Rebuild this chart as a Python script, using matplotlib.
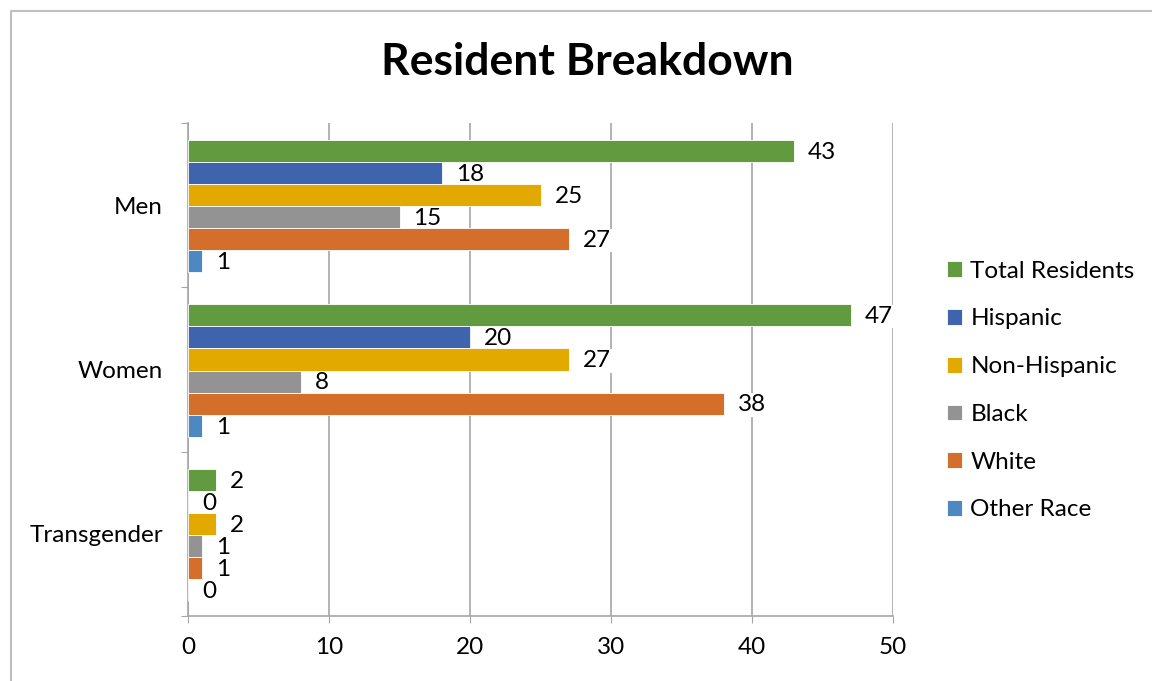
import matplotlib
matplotlib.use("Agg")
import matplotlib.pyplot as plt
from matplotlib.lines import Line2D
import numpy as np

categories = ["Men", "Women", "Transgender"]
series_names = ["Total Residents", "Hispanic", "Non-Hispanic", "Black", "White", "Other Race"]
total_residents = [43, 47, 2]
hispanic = [18, 20, 0]
non_hispanic = [25, 27, 2]
black = [15, 8, 1]
white = [27, 38, 1]
other_race = [1, 1, 0]
x_ticks = [0, 10, 20, 30, 40, 50]

series_values = [total_residents, hispanic, non_hispanic, black, white, other_race]
colors = ["#629A3F", "#3E64AD", "#E2AA00", "#939393", "#D46F2B", "#4E88C1"]

plt.rcParams['font.family'] = ['Lato', 'DejaVu Sans']

W, H = 1152, 681
fig = plt.figure(figsize=(W / 100, H / 100), dpi=100)
ax = fig.add_axes([188 / W, 1 - 616 / H, (893 - 188) / W, (616 - 123) / H])

FS = 17.5
n = len(series_names)
bar_h = 22 / 164
start = 17 / 164
for j, (name, vals, c) in enumerate(zip(series_names, series_values, colors)):
    ys = [i + start + bar_h * (j + 0.5) for i in range(len(categories))]
    ax.barh(ys, vals, height=bar_h, color=c, edgecolor="white", linewidth=0.6,
            label=name, zorder=3)
    for y, v in zip(ys, vals):
        ax.annotate(str(v), xy=(v, y), xytext=(10, -1), textcoords="offset points",
                    ha="left", va="center", fontsize=FS, color="black", zorder=2.5,
                    bbox=dict(boxstyle="square,pad=0.05", fc="white", ec="none"))

ax.set_xlim(0, 50)
ax.set_ylim(3, 0)
ax.set_xticks(x_ticks)
ax.set_xticklabels([str(t) for t in x_ticks], fontsize=FS)
ax.set_yticks([0, 1, 2, 3])
ax.set_yticklabels([])
ax.set_yticks([0.5, 1.5, 2.5], minor=True)
ax.set_yticklabels(categories, minor=True, fontsize=FS)
ax.tick_params(axis="y", which="minor", length=0, pad=18)
ax.tick_params(axis="y", which="major", length=5, color="#A6A6A6", direction="out")
ax.tick_params(axis="x", length=5, color="#A6A6A6", direction="out", pad=10)

ax.grid(axis="x", color="#A6A6A6", linewidth=1.2, zorder=0)
ax.set_axisbelow(True)
for s in ["top", "right"]:
    ax.spines[s].set_visible(False)
for s in ["left", "bottom"]:
    ax.spines[s].set_color("#A6A6A6")
    ax.spines[s].set_linewidth(1.2)

fig.text(587 / W, 1 - 62 / H, "Resident Breakdown", ha="center", va="center",
         fontsize=32, fontweight="bold")

leg = fig.legend(loc="upper left", bbox_to_anchor=(937 / W, 1 - 251 / H),
                 frameon=False, fontsize=FS, handlelength=0.62, handleheight=0.62,
                 handletextpad=0.35, labelspacing=1.1, borderaxespad=0)

fig.add_artist(Line2D([11 / W, 11 / W, 1.0], [0.0, 1 - 11 / H, 1 - 11 / H],
                      transform=fig.transFigure, color="#BFBFBF", linewidth=1.5))

fig.savefig("out.png", dpi=100, facecolor="white")
